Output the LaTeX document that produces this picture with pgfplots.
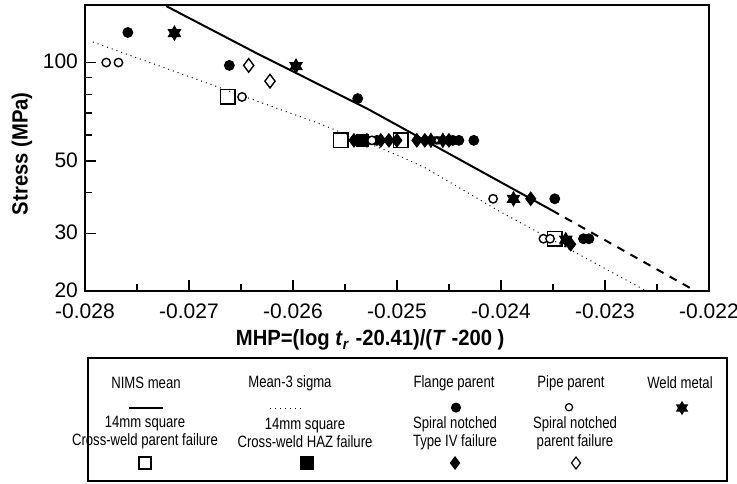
\documentclass[border=0pt]{standalone}
\usepackage{pgfplots}
\pgfplotsset{compat=1.18}
\usepackage{fontspec}
\setmainfont{Liberation Sans}
\newfontfamily\legfont[FakeStretch=0.8]{Liberation Sans}
\newfontfamily\labfont[FakeStretch=0.92]{Liberation Sans}
\usetikzlibrary{plotmarks}

\pgfdeclareplotmark{hexagram}{%
  \pgfpathmoveto{\pgfqpointpolar{90}{\pgfplotmarksize}}%
  \pgfpathlineto{\pgfqpointpolar{210}{\pgfplotmarksize}}%
  \pgfpathlineto{\pgfqpointpolar{330}{\pgfplotmarksize}}%
  \pgfpathclose
  \pgfpathmoveto{\pgfqpointpolar{270}{\pgfplotmarksize}}%
  \pgfpathlineto{\pgfqpointpolar{30}{\pgfplotmarksize}}%
  \pgfpathlineto{\pgfqpointpolar{150}{\pgfplotmarksize}}%
  \pgfpathclose
  \pgfusepathqfillstroke
}

\newcommand{\legmark}[2]{\tikz[baseline=-0.6ex]{\pgfsetplotmarksize{#2}\pgfsetlinewidth{0.6pt}\pgfsetfillcolor{black}\pgfuseplotmark{#1}}}

\begin{document}
\begin{tikzpicture}[x=1pt,y=1pt]
\begin{axis}[
  at={(0pt,0pt)}, anchor=south west,
  scale only axis, width=312pt, height=143pt,
  xmin=-0.028, xmax=-0.022,
  ymode=log, ymin=20, ymax=150,
  scaled x ticks=false,
  xtick={-0.028,-0.027,-0.026,-0.025,-0.024,-0.023,-0.022},
  xticklabels={-0.028,-0.027,-0.026,-0.025,-0.024,-0.023,-0.022},
  minor xtick={-0.0275,-0.0265,-0.0255,-0.0245,-0.0235,-0.0225},
  ytick={20,30,50,100},
  yticklabels={20,30,50,100},
  minor ytick={40,60,70,80,90},
  xtick pos=bottom, ytick pos=left,
  tick align=inside,
  major tick length=5.5pt, minor tick length=3.5pt,
  axis line style={line width=0.8pt},
  tick style={line width=0.7pt, black},
  ticklabel style={font=\fontsize{10.5}{12.5}\selectfont},
  xticklabel style={yshift=-3pt},
  yticklabel style={yshift=0.5pt},
  xlabel={\textbf{MHP=(log \textit{t}\textsubscript{\textit{r}} -20.41)/(\textit{T} -200 )}},
  ylabel={\textbf{Stress (MPa)}},
  label style={font=\labfont\fontsize{11}{13}\selectfont},
  xlabel style={at={(axis description cs:0.457,-0.172)}, anchor=center},
  ylabel style={at={(axis description cs:-0.101,0.48)}, anchor=center},
  clip=true,
]
% NIMS mean
\addplot[black, line width=1pt] coordinates {
  (-0.02722,148.9) (-0.02636,107.2) (-0.02527,71.8) (-0.02351,35.3)};
\addplot[black, line width=1pt, dash pattern=on 4pt off 3.5pt] coordinates {
  (-0.02351,35.3) (-0.02213,20)};
% Mean - 3 sigma
\addplot[black, line width=0.5pt, dotted] coordinates {
  (-0.027924,115.6) (-0.025731,64.8) (-0.024934,51.1) (-0.024722,47.5) (-0.024031,35.3) (-0.022551,19.6)};
% 14mm square cross-weld parent failure (open square)
\addplot[only marks, mark=square, mark size=3.6pt, mark options={line width=0.7pt}] coordinates {
  (-0.026627,78.5) (-0.025539,57.8) (-0.024962,57.8) (-0.023483,28.9)};
% 14mm square HAZ (filled square)
\addplot[only marks, mark=square*, mark size=3pt, fill=black] coordinates {
  (-0.025328,57.8)};
% Spiral notched Type IV (filled diamond)
\addplot[only marks, mark=diamond*, mark size=3.4pt, fill=black] coordinates {
  (-0.025414,57.8) (-0.025289,57.8) (-0.025156,57.8) (-0.025078,57.8) (-0.025001,57.8)
  (-0.024809,57.8) (-0.024732,57.8) (-0.024501,57.8)
  (-0.023714,38.3) (-0.023330,27.8)};
% Flange parent (filled circle)
\addplot[only marks, mark=*, mark size=2.5pt, fill=black] coordinates {
  (-0.027588,123.6) (-0.026612,98.0) (-0.025378,77.6)
  (-0.025347,57.8) (-0.025193,57.8) (-0.024463,57.8) (-0.024405,57.8) (-0.024261,57.8)
  (-0.023483,38.3) (-0.023207,28.9) (-0.023154,28.9)};
% Weld metal (hexagram)
\addplot[only marks, mark=hexagram, mark size=3.6pt, fill=black] coordinates {
  (-0.027140,123) (-0.025971,97.5) (-0.024674,57.8) (-0.024559,57.8)
  (-0.023880,38.3) (-0.023377,28.7)};
% Pipe parent (open circle)
\addplot[only marks, mark=*, mark size=2.1pt, mark options={fill=white, draw=black, line width=0.7pt}] coordinates {
  (-0.027796,100) (-0.027678,100) (-0.026490,78.5) (-0.025241,57.8)
  (-0.024076,38.3) (-0.023592,28.9) (-0.023528,28.9)};
% Spiral notched parent failure (open diamond)
\addplot[only marks, mark=diamond*, mark size=3.4pt, mark options={fill=white, draw=black, line width=0.7pt}] coordinates {
  (-0.026426,98) (-0.026221,87.7)};
\end{axis}

% legend box
\draw[line width=0.7pt] (1.5,-33.5) rectangle (321,-95);
\begin{scope}[every node/.style={font=\legfont\fontsize{8.2}{9}\selectfont, inner sep=0pt, align=center}]
\node at (30.5,-46) {NIMS mean};
\node at (102.5,-46) {Mean-3 sigma};
\node at (184.5,-46) {Flange parent};
\node at (243,-46) {Pipe parent};
\node at (297.5,-46) {Weld metal};
\node at (30.5,-58.5) {\tikz\draw[line width=1pt] (0,0) -- (17,0);};
\node at (101,-58.5) {\tikz\draw[line width=0.5pt, dotted] (0,0) -- (17,0);};
\node at (185.5,-58.5) {\legmark{*}{2.2pt}};
\node at (242,-58.5) {\legmark{o}{1.8pt}};
\node at (298.5,-58.5) {\legmark{hexagram}{3pt}};
\node at (30,-71) {14mm square\\Cross-weld parent failure};
\node at (110,-71) {14mm square\\Cross-weld HAZ failure};
\node at (185,-71) {Spiral notched\\Type IV failure};
\node at (245,-71) {Spiral notched\\parent failure};
\node at (30,-86) {\legmark{square}{3pt}};
\node at (111,-86) {\legmark{square*}{3pt}};
\node at (185,-86) {\legmark{diamond*}{3pt}};
\node at (245.5,-86) {\legmark{diamond}{3pt}};
\end{scope}

\pgfresetboundingbox
\path (-42.5,-96) rectangle (326,145.5);
\end{tikzpicture}
\end{document}
